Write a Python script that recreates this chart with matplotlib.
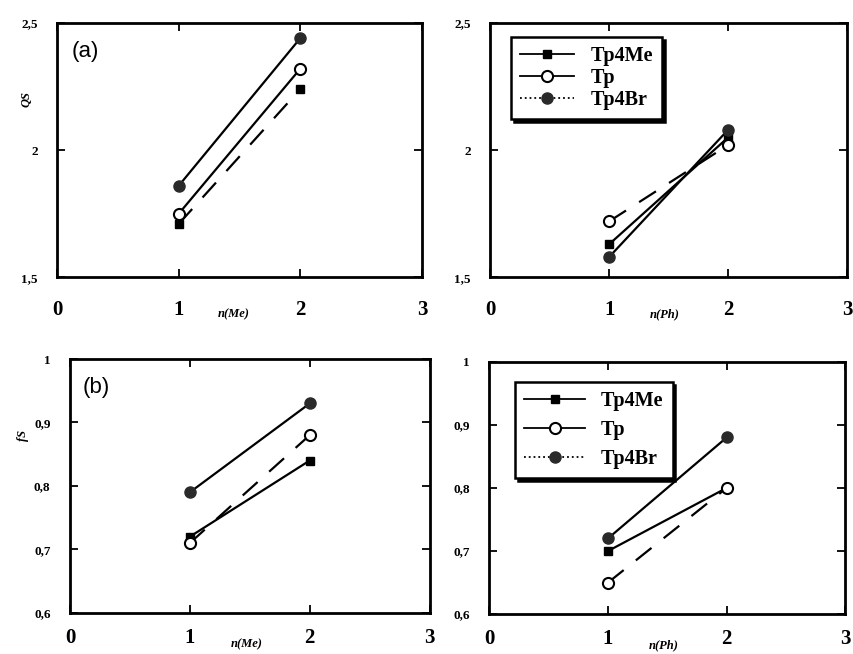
import matplotlib

matplotlib.use("Agg")
import matplotlib.pyplot as plt
from matplotlib.lines import Line2D

n_vals = [1, 2]

series_names = ["Tp4Me", "Tp", "Tp4Br"]

qs_me = {"Tp4Me": [1.71, 2.24], "Tp": [1.75, 2.32], "Tp4Br": [1.86, 2.44]}
qs_ph = {"Tp4Me": [1.63, 2.05], "Tp": [1.72, 2.02], "Tp4Br": [1.58, 2.08]}
fs_me = {"Tp4Me": [0.72, 0.84], "Tp": [0.71, 0.88], "Tp4Br": [0.79, 0.93]}
fs_ph = {"Tp4Me": [0.70, 0.80], "Tp": [0.65, 0.80], "Tp4Br": [0.72, 0.88]}

x_ticks = [0, 1, 2, 3]
x_ticklabels = ["0", "1", "2", "3"]
qs_ticks = [1.5, 2, 2.5]
qs_ticklabels = ["1,5", "2", "2,5"]
fs_ticks = [0.6, 0.7, 0.8, 0.9, 1.0]
fs_ticklabels = ["0,6", "0,7", "0,8", "0,9", "1"]

SERIF = "Liberation Serif"
DASH = (0, (9, 7))

# marker styles per series
markers = {
    "Tp4Me": dict(marker="s", ms=5.5, mfc="black", mec="black"),
    "Tp": dict(marker="o", ms=8, mfc="white", mec="black", mew=1.5),
    "Tp4Br": dict(marker="o", ms=8, mfc="#2a2a2a", mec="#2a2a2a"),
}


def setup_axes(ax, yticks, yticklabels, ylim, xpad=16):
    ax.set_xlim(0, 3)
    ax.set_ylim(*ylim)
    ax.set_xticks(x_ticks)
    ax.set_xticklabels(x_ticklabels, fontfamily=SERIF, fontweight="bold", fontsize=15)
    ax.set_yticks(yticks)
    ax.set_yticklabels(yticklabels, fontfamily=SERIF, fontweight="bold", fontsize=9.5)
    ax.tick_params(axis="x", direction="in", top=True, length=6, width=1.3, pad=xpad)
    ax.tick_params(axis="y", direction="in", right=True, length=6, width=1.3, pad=14)
    for sp in ax.spines.values():
        sp.set_linewidth(2)


def draw_panel(ax, data, styles):
    for name in series_names:
        ax.plot(n_vals, data[name], color="black", lw=1.6, ls=styles[name],
                zorder=3, **markers[name])


def add_xlabel(ax, text, x, y):
    ax.text(x, y, text, transform=ax.transAxes, ha="center", va="center",
            fontfamily=SERIF, fontstyle="italic", fontweight="bold", fontsize=9)


def add_legend(ax, anchor, spacing, hlen):
    handles = [
        Line2D([], [], color="black", lw=1.3, ls="-", **markers["Tp4Me"]),
        Line2D([], [], color="black", lw=1.3, ls="-", **markers["Tp"]),
        Line2D([], [], color="black", lw=1.3, ls=":", **markers["Tp4Br"]),
    ]
    leg = ax.legend(handles, series_names, loc="upper left", bbox_to_anchor=anchor,
                    prop=dict(family=SERIF, weight="bold", size=14.5),
                    fancybox=False, framealpha=1, edgecolor="black",
                    handlelength=hlen, handletextpad=0.8, labelspacing=spacing,
                    borderpad=0.45, shadow=dict(color="black", alpha=1))
    leg.get_frame().set_linewidth(1.8)


def main():
    fig = plt.figure(figsize=(8.54, 6.54), dpi=100)
    ax_tl = fig.add_axes([0.067, 0.576, 0.427, 0.389])
    ax_tr = fig.add_axes([0.574, 0.576, 0.418, 0.389])
    ax_bl = fig.add_axes([0.082, 0.063, 0.421, 0.388])
    ax_br = fig.add_axes([0.573, 0.061, 0.417, 0.386])

    draw_panel(ax_tl, qs_me, {"Tp4Me": DASH, "Tp": "-", "Tp4Br": "-"})
    draw_panel(ax_tr, qs_ph, {"Tp4Me": "-", "Tp": DASH, "Tp4Br": "-"})
    draw_panel(ax_bl, fs_me, {"Tp4Me": "-", "Tp": DASH, "Tp4Br": "-"})
    draw_panel(ax_br, fs_ph, {"Tp4Me": "-", "Tp": DASH, "Tp4Br": "-"})

    for ax in (ax_tl, ax_tr):
        setup_axes(ax, qs_ticks, qs_ticklabels, (1.5, 2.5))
    for ax in (ax_bl, ax_br):
        setup_axes(ax, fs_ticks, fs_ticklabels, (0.6, 1.0), xpad=11)

    ax_tl.text(0.04, 0.93, "(a)", transform=ax_tl.transAxes, fontsize=16,
               fontfamily="Liberation Sans", va="top")
    ax_bl.text(0.035, 0.93, "(b)", transform=ax_bl.transAxes, fontsize=16,
               fontfamily="Liberation Sans", va="top")

    ax_tl.text(-0.085, 0.7, "QS", transform=ax_tl.transAxes, rotation=90,
               ha="center", va="center", fontfamily=SERIF, fontstyle="italic",
               fontweight="bold", fontsize=9)
    ax_bl.text(-0.13, 0.7, "fS", transform=ax_bl.transAxes, rotation=90,
               ha="center", va="center", fontfamily=SERIF, fontstyle="italic",
               fontweight="bold", fontsize=9)

    add_xlabel(ax_tl, "n(Me)", 0.485, -0.145)
    add_xlabel(ax_tr, "n(Ph)", 0.49, -0.145)
    add_xlabel(ax_bl, "n(Me)", 0.49, -0.125)
    add_xlabel(ax_br, "n(Ph)", 0.49, -0.125)

    add_legend(ax_tr, (0.03, 0.985), 0.1, 2.7)
    add_legend(ax_br, (0.045, 0.96), 0.45, 3.0)

    fig.savefig("out.png", dpi=100)


if __name__ == "__main__":
    main()
